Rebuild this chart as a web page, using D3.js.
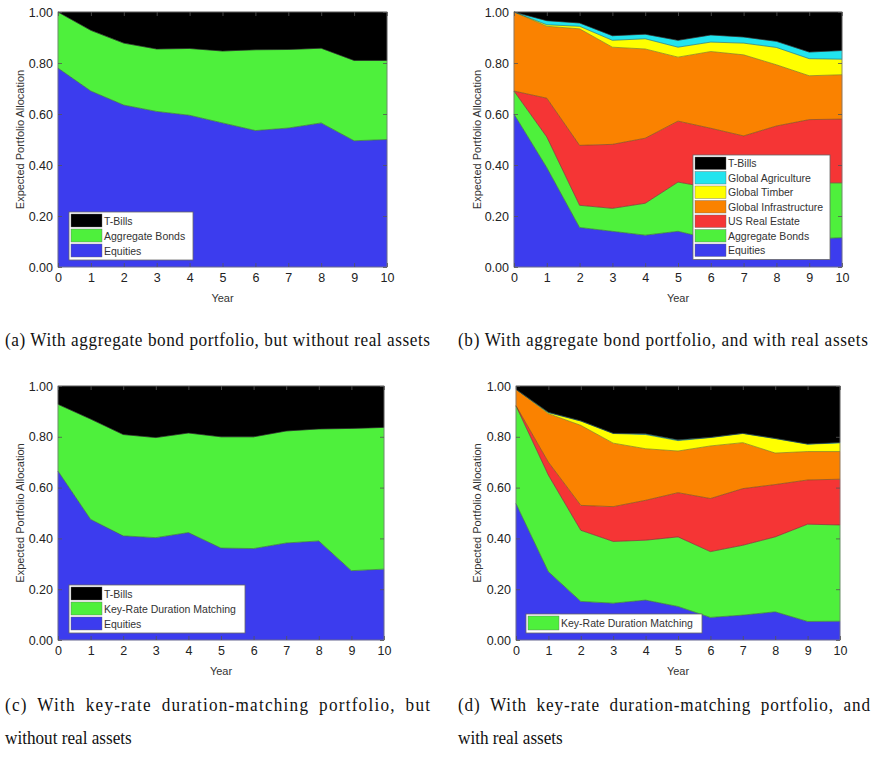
<!DOCTYPE html>
<html>
<head>
<meta charset="utf-8">
<script src="https://cdn.jsdelivr.net/npm/d3@7"></script>
<style>
  body { margin: 0; background: #fff; }
  svg { display: block; }
</style>
</head>
<body>
<svg id="chart" width="885" height="767"></svg>
<script>
// ---------- DATA ----------
const years = [0, 1, 2, 3, 4, 5, 6, 7, 8, 9, 10];
const yTicks = [0, 0.2, 0.4, 0.6, 0.8, 1.0];

// Panel (a)
const aEquities = [0.78, 0.69, 0.635, 0.61, 0.595, 0.565, 0.535, 0.545, 0.565, 0.495, 0.50];
const aBonds    = [0.22, 0.238, 0.243, 0.245, 0.262, 0.282, 0.317, 0.308, 0.293, 0.315, 0.31];
const aTBills   = [0.0, 0.072, 0.122, 0.145, 0.143, 0.153, 0.148, 0.147, 0.142, 0.19, 0.19];

// Panel (b)
const bEquities   = [0.60, 0.39, 0.155, 0.14, 0.125, 0.14, 0.11, 0.11, 0.11, 0.11, 0.115];
const bBonds      = [0.09, 0.12, 0.087, 0.09, 0.125, 0.193, 0.20, 0.20, 0.21, 0.22, 0.215];
const bRealEstate = [0.0, 0.152, 0.235, 0.251, 0.255, 0.239, 0.234, 0.204, 0.233, 0.248, 0.25];
const bInfra      = [0.31, 0.282, 0.457, 0.381, 0.35, 0.251, 0.301, 0.318, 0.24, 0.172, 0.174];
const bTimber     = [0.0, 0.006, 0.01, 0.027, 0.04, 0.039, 0.037, 0.046, 0.068, 0.067, 0.061];
const bAgri       = [0.0, 0.016, 0.013, 0.018, 0.018, 0.027, 0.028, 0.024, 0.024, 0.026, 0.034];
const bTBills     = [0.0, 0.034, 0.043, 0.093, 0.087, 0.111, 0.09, 0.098, 0.115, 0.157, 0.151];

// Panel (c)
const cEquities = [0.665, 0.475, 0.41, 0.403, 0.423, 0.362, 0.36, 0.382, 0.39, 0.273, 0.279];
const cKRD      = [0.263, 0.395, 0.399, 0.394, 0.392, 0.438, 0.44, 0.441, 0.441, 0.56, 0.558];
const cTBills   = [0.072, 0.13, 0.191, 0.203, 0.185, 0.20, 0.20, 0.177, 0.169, 0.167, 0.163];

// Panel (d)
const dEquities   = [0.537, 0.269, 0.152, 0.145, 0.157, 0.132, 0.089, 0.098, 0.111, 0.073, 0.074];
const dKRD        = [0.385, 0.38, 0.28, 0.243, 0.236, 0.274, 0.259, 0.275, 0.295, 0.383, 0.379];
const dRealEstate = [0.0, 0.051, 0.098, 0.137, 0.157, 0.174, 0.209, 0.223, 0.206, 0.174, 0.18];
const dInfra      = [0.065, 0.191, 0.315, 0.25, 0.203, 0.164, 0.207, 0.181, 0.124, 0.112, 0.109];
const dTimber     = [0.0, 0.004, 0.017, 0.038, 0.056, 0.041, 0.033, 0.036, 0.057, 0.029, 0.034];
const dAgri       = [0.0, 0.002, 0.001, 0.001, 0.003, 0.003, 0.001, 0.001, 0.001, 0.001, 0.002];
const dTBills     = [0.013, 0.103, 0.137, 0.186, 0.188, 0.212, 0.202, 0.186, 0.206, 0.228, 0.222];

const captionA = "(a)  With aggregate bond portfolio, but without real assets";
const captionB = "(b)  With aggregate bond portfolio, and with real assets";
const captionC = ["(c)  With key-rate duration-matching portfolio, but", "without real assets"];
const captionD = ["(d)  With key-rate duration-matching portfolio, and", "with real assets"];

// ---------- STYLE ----------
const colors = {
  "T-Bills": "#000000",
  "Global Agriculture": "#22e4ee",
  "Global Timber": "#ffff00",
  "Global Infrastructure": "#fa8200",
  "US Real Estate": "#f53535",
  "Aggregate Bonds": "#4ef03c",
  "Key-Rate Duration Matching": "#4ef03c",
  "Equities": "#3c3cee"
};

const panels = [
  { box: [58, 12, 387, 267], ylab: 20,
    series: [["Equities", aEquities], ["Aggregate Bonds", aBonds], ["T-Bills", aTBills]],
    legend: { x: 69, y: 212, w: 124, row: 15, keys: ["T-Bills", "Aggregate Bonds", "Equities"] } },
  { box: [514, 12, 842, 267], ylab: 477,
    series: [["Equities", bEquities], ["Aggregate Bonds", bBonds], ["US Real Estate", bRealEstate],
             ["Global Infrastructure", bInfra], ["Global Timber", bTimber], ["Global Agriculture", bAgri], ["T-Bills", bTBills]],
    legend: { x: 693, y: 155, w: 137, row: 14.5, keys: ["T-Bills", "Global Agriculture", "Global Timber", "Global Infrastructure", "US Real Estate", "Aggregate Bonds", "Equities"] } },
  { box: [58, 386, 384, 640], ylab: 20,
    series: [["Equities", cEquities], ["Key-Rate Duration Matching", cKRD], ["T-Bills", cTBills]],
    legend: { x: 69, y: 585, w: 176, row: 15, keys: ["T-Bills", "Key-Rate Duration Matching", "Equities"] } },
  { box: [516, 386, 840, 640], ylab: 477,
    series: [["Equities", dEquities], ["Key-Rate Duration Matching", dKRD], ["US Real Estate", dRealEstate],
             ["Global Infrastructure", dInfra], ["Global Timber", dTimber], ["Global Agriculture", dAgri], ["T-Bills", dTBills]],
    legend: { x: 526, y: 614, w: 176, row: 16, keys: ["Key-Rate Duration Matching"] } }
];

const svg = d3.select("#chart");
const sans = "Liberation Sans, Arial, sans-serif";

panels.forEach(p => {
  const [x0, y0, x1, y1] = p.box;
  const x = d3.scaleLinear().domain([0, 10]).range([x0, x1]);
  const y = d3.scaleLinear().domain([0, 1]).range([y1, y0]);
  const g = svg.append("g");

  const keys = p.series.map(s => s[0]);
  const table = years.map((yr, i) => {
    const row = { year: yr };
    p.series.forEach(([k, v]) => row[k] = v[i]);
    return row;
  });
  const stacked = d3.stack().keys(keys)(table);

  const area = d3.area().x(d => x(d.data.year)).y0(d => y(d[0])).y1(d => y(d[1]));
  const topLine = d3.line().x(d => x(d.data.year)).y(d => y(d[1]));

  g.selectAll("path.area").data(stacked).join("path")
    .attr("class", "area")
    .attr("d", area)
    .attr("fill", d => colors[d.key])
    .attr("stroke", d => colors[d.key])
    .attr("stroke-width", 0.4);

  g.selectAll("path.edge").data(stacked.slice(0, -1)).join("path")
    .attr("class", "edge")
    .attr("d", topLine)
    .attr("fill", "none")
    .attr("stroke", "#333")
    .attr("stroke-opacity", 0.55)
    .attr("stroke-width", 0.8);

  // frame
  g.append("rect").attr("x", x0).attr("y", y0).attr("width", x1 - x0).attr("height", y1 - y0)
    .attr("fill", "none").attr("stroke", "#777").attr("stroke-width", 0.8);

  // axes
  const xAxis = d3.axisBottom(x).tickValues(years).tickSize(-4).tickPadding(6).tickFormat(d3.format("d"));
  const yAxis = d3.axisLeft(y).tickValues(yTicks).tickSize(-4).tickPadding(5).tickFormat(d3.format(".2f"));
  const ax = g.append("g").attr("transform", `translate(0,${y1})`).call(xAxis);
  const ay = g.append("g").attr("transform", `translate(${x0},0)`).call(yAxis);
  g.append("g").attr("transform", `translate(0,${y0})`)
    .call(d3.axisTop(x).tickValues(years).tickSize(-4).tickFormat(""));
  g.append("g").attr("transform", `translate(${x1},0)`)
    .call(d3.axisRight(y).tickValues(yTicks).tickSize(-4).tickFormat(""));
  g.selectAll(".domain").remove();
  g.selectAll(".tick line").attr("stroke", "#555").attr("stroke-width", 0.8);
  [ax, ay].forEach(a => a.selectAll("text")
    .attr("font-family", sans).attr("font-size", 12.5).attr("fill", "#222"));

  // axis labels
  g.append("text").attr("x", (x0 + x1) / 2).attr("y", y1 + 35)
    .attr("text-anchor", "middle").attr("font-family", sans)
    .attr("font-size", 11).attr("fill", "#333").text("Year");
  g.append("text")
    .attr("transform", `translate(${p.ylab},${(y0 + y1) / 2}) rotate(-90)`)
    .attr("text-anchor", "middle").attr("dominant-baseline", "central")
    .attr("font-family", sans).attr("font-size", 11).attr("fill", "#333")
    .text("Expected Portfolio Allocation");

  // legend
  const L = p.legend;
  const lg = g.append("g").attr("transform", `translate(${L.x},${L.y})`);
  const h = L.keys.length * L.row + 3;
  lg.append("rect").attr("width", L.w).attr("height", h)
    .attr("fill", "#fff").attr("stroke", "#666").attr("stroke-width", 0.8);
  L.keys.forEach((k, i) => {
    const ry = 2 + i * L.row;
    lg.append("rect").attr("x", 2).attr("y", ry).attr("width", 31).attr("height", L.row - 2)
      .attr("fill", colors[k]).attr("stroke", "#666").attr("stroke-width", 0.4);
    lg.append("text").attr("x", 35).attr("y", ry + (L.row - 2) / 2)
      .attr("dominant-baseline", "central")
      .attr("font-family", sans).attr("font-size", 10.5).attr("fill", "#333").text(k);
  });
});

// captions
const serif = "Liberation Serif, Times New Roman, serif";
function caption(txt, cx, cy, size, sx, width, ws) {
  const t = svg.append("text").attr("x", cx).attr("y", cy)
    .attr("font-family", serif).attr("font-size", size).attr("fill", "#111")
    .attr("transform", `translate(${cx},${cy}) scale(${sx},1) translate(${-cx},${-cy})`)
    .text(txt);
  if (ws) t.attr("word-spacing", ws);
  if (width) {
    t.attr("textLength", width / sx).attr("lengthAdjust", "spacing");
  }
  return t;
}
caption(captionA, 5, 346, 18.5, 0.93, 425);
caption(captionB, 458, 346, 18.5, 0.93, 410);
caption(captionC[0], 5, 711, 19.5, 0.88, 425, 5);
caption(captionC[1], 5, 744, 19.5, 0.88, null);
caption(captionD[0], 458, 711, 19.5, 0.88, 412, 5);
caption(captionD[1], 458, 744, 19.5, 0.88, null);
</script>
</body>
</html>
